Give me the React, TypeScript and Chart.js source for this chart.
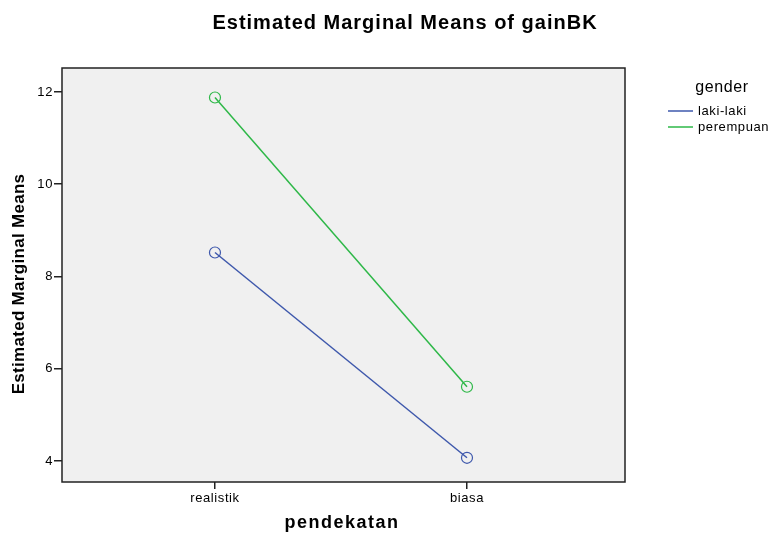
import React, { useEffect, useRef } from "react";
import { Chart, registerables } from "chart.js";

Chart.register(...registerables);

const categories = ["realistik", "biasa"];
const seriesNames = ["laki-laki", "perempuan"];
const lakiLaki = [8.52, 4.07];
const perempuan = [11.88, 5.61];
const yTicks = [4, 6, 8, 10, 12];
const colors = ["#3E58AC", "#2EB848"];

const FONT = "'Liberation Sans', Arial, sans-serif";

const framePlugin = {
  id: "frame",
  beforeDraw(chart: any) {
    (chart.ctx as any).letterSpacing = "0.6px";
  },
  beforeDatasetsDraw(chart: any) {
    const { ctx, chartArea: a } = chart;
    ctx.save();
    ctx.fillStyle = "#f0f0f0";
    ctx.fillRect(a.left, a.top, a.right - a.left, a.bottom - a.top);
    ctx.restore();
  },
  afterDatasetsDraw(chart: any) {
    const { ctx, chartArea: a } = chart;
    ctx.save();
    ctx.strokeStyle = "#222";
    ctx.lineWidth = 1.5;
    ctx.strokeRect(a.left, a.top, a.right - a.left, a.bottom - a.top);
    ctx.restore();
  },
  afterDraw(chart: any) {
    const { ctx } = chart;
    ctx.save();
    ctx.fillStyle = "#000";
    ctx.textBaseline = "middle";
    ctx.textAlign = "center";
    ctx.letterSpacing = "1px";
    ctx.font = `bold 20px ${FONT}`;
    ctx.fillText("Estimated Marginal Means of gainBK", 405, 23);
    ctx.letterSpacing = "1.5px";
    ctx.font = `bold 18px ${FONT}`;
    ctx.fillText("pendekatan", 342, 523);
    ctx.save();
    ctx.translate(19, 284);
    ctx.rotate(-Math.PI / 2);
    ctx.letterSpacing = "0.3px";
    ctx.font = `bold 17px ${FONT}`;
    ctx.fillText("Estimated Marginal Means", 0, 0);
    ctx.restore();
    ctx.letterSpacing = "0.6px";
    ctx.font = `16px ${FONT}`;
    ctx.fillText("gender", 722, 88);
    ctx.textAlign = "left";
    ctx.font = `13px ${FONT}`;
    chart.data.datasets.forEach((ds: any, i: number) => {
      const y = 111 + i * 16;
      ctx.strokeStyle = ds.borderColor;
      ctx.lineWidth = 1.5;
      ctx.beginPath();
      ctx.moveTo(668, y);
      ctx.lineTo(693, y);
      ctx.stroke();
      ctx.fillStyle = "#000";
      ctx.fillText(ds.label, 698, y);
    });
    ctx.restore();
  },
};

export default function App() {
  const ref = useRef<HTMLCanvasElement>(null);
  useEffect(() => {
    const mk = (vals: number[]) => vals.map((v, i) => ({ x: i, y: v }));
    const ds = (label: string, vals: number[], color: string) => ({
      label,
      data: mk(vals),
      borderColor: color,
      backgroundColor: "transparent",
      borderWidth: 1.5,
      pointRadius: 5.5,
      pointBorderWidth: 1.2,
      pointBackgroundColor: "transparent",
      pointBorderColor: color,
    });
    const chart = new Chart(ref.current!, {
      type: "line",
      data: {
        datasets: [ds(seriesNames[0], lakiLaki, colors[0]), ds(seriesNames[1], perempuan, colors[1])],
      },
      options: {
        animation: false,
        responsive: false,
        layout: { padding: { left: 0, right: 148, top: 68, bottom: 0 } },
        plugins: { legend: { display: false }, tooltip: { enabled: false }, title: { display: false } },
        scales: {
          x: {
            type: "linear",
            min: -0.607,
            max: 1.627,
            afterBuildTicks: (s: any) => {
              s.ticks = categories.map((_, i) => ({ value: i }));
            },
            afterFit: (s: any) => {
              s.height = 55;
            },
            ticks: {
              callback: (v: any) => categories[v as number] ?? "",
              color: "#000",
              font: { family: FONT, size: 13 },
              padding: 2,
              maxRotation: 0,
              autoSkip: false,
            },
            grid: { drawOnChartArea: false, drawTicks: true, tickLength: 7, color: "#222", lineWidth: 1.5 },
            border: { display: false },
          },
          y: {
            min: 3.545,
            max: 12.52,
            afterBuildTicks: (s: any) => {
              s.ticks = yTicks.map((v) => ({ value: v }));
            },
            afterFit: (s: any) => {
              s.width = 62;
            },
            ticks: {
              color: "#000",
              font: { family: FONT, size: 13 },
              padding: 1,
            },
            grid: { drawOnChartArea: false, drawTicks: true, tickLength: 8, color: "#222", lineWidth: 1.5 },
            border: { display: false },
          },
        },
      } as any,
      plugins: [framePlugin],
    });
    return () => chart.destroy();
  }, []);
  return (
    <div style={{ position: "fixed", left: 0, top: 0, width: 773, height: 537, background: "#fff" }}>
      <canvas ref={ref} width={773} height={537} style={{ width: 773, height: 537 }} />
    </div>
  );
}
